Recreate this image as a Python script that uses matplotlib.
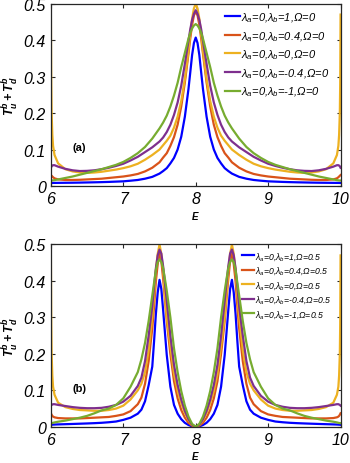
import numpy as np
import matplotlib
matplotlib.use('Agg')
import matplotlib.pyplot as plt

plt.rcParams.update({
    'font.family': 'Liberation Sans',
    'font.style': 'italic',
    'mathtext.fontset': 'custom',
    'mathtext.rm': 'Liberation Sans:italic',
    'mathtext.it': 'Liberation Sans:italic',
    'mathtext.bf': 'Liberation Sans:bold:italic',
})

# Curves are symmetric about E = 8, only the left half (6 <= E <= 8) is kept
# Panel (a): Omega = 0
E_a = [6.0, 6.005, 6.01, 6.02, 6.03, 6.05, 6.1, 6.2, 6.3, 6.4, 6.5, 6.6,
       6.7, 6.8, 6.9, 7.0, 7.1, 7.2, 7.3, 7.4, 7.5, 7.55, 7.6, 7.65, 7.7,
       7.75, 7.8, 7.85, 7.9, 7.925, 7.95, 7.975, 8.0]
blue_a = [.0084, .0084, .0084, .0084, .0085, .0085, .0086, .0088, .009,
          .0093, .0097, .0101, .0106, .0112, .012, .0128, .0145, .0165, .020,
          .025, .034, .041, .049, .062, .077, .1, .135, .19, .266, .312, .359,
          .392, .407]
red_a = [.030, .029, .028, .026, .024, .021, .018, .0165, .0165, .017, .018,
         .019, .020, .022, .024, .026, .029, .033, .04, .05, .065, .078, .09,
         .11, .134, .168, .218, .284, .363, .405, .442, .468, .478]
yellow_a = [.47, .28, .2, .14, .11, .085, .062, .046, .040, .037, .036, .037,
            .039, .042, .045, .049, .054, .061, .072, .085, .1, .112, .124,
            .138, .16, .19, .233, .293, .37, .418, .458, .487, .5]
purple_a = [.050, .052, .054, .056, .057, .057, .053, .047, .043, .041, .0415,
            .043, .046, .05, .055, .061, .07, .08, .093, .106, .122, .133,
            .148, .168, .195, .229, .275, .335, .398, .43, .455, .472, .482]
green_a = [.015, .015, .015, .0152, .0155, .016, .018, .022, .026, .031,
           .036, .041, .046, .052, .058, .066, .077, .09, .107, .13, .158,
           .174, .193, .218, .248, .283, .326, .365, .404, .42, .432, .44,
           .444]

# Panel (b): Omega = 0.5
E_b = [6.0, 6.005, 6.01, 6.02, 6.03, 6.05, 6.1, 6.2, 6.3, 6.4, 6.5, 6.6,
       6.7, 6.8, 6.9, 7.0, 7.1, 7.2, 7.25, 7.3, 7.35, 7.4, 7.425, 7.45,
       7.475, 7.5, 7.525, 7.55, 7.575, 7.6, 7.65, 7.7, 7.75, 7.8, 7.85,
       7.9, 7.95, 8.0]
blue_b = [.0055, .0056, .0057, .0058, .006, .0062, .0066, .0072, .0078,
          .0085, .0092, .010, .011, .0125, .0145, .019, .025, .036, .047,
          .07, .114, .165, .235, .31, .368, .403, .378, .32, .258, .197, .11,
          .06, .036, .021, .011, .005, .0012, 0.0]
red_b = [.037, .035, .033, .030, .028, .026, .024, .023, .023, .023, .024,
         .025, .026, .027, .03, .034, .043, .062, .08, .118, .18, .27, .33,
         .40, .446, .48, .455, .406, .35, .29, .2, .125, .078, .046, .025,
         .011, .003, 0.0]
yellow_b = [.47, .28, .2, .14, .11, .088, .066, .054, .049, .046, .045, .044,
            .044, .046, .05, .058, .075, .1, .118, .15, .21, .30, .36, .428,
            .474, .5, .474, .428, .36, .30, .22, .145, .098, .065, .038, .018,
            .005, 0.0]
purple_b = [.058, .059, .06, .061, .062, .062, .06, .057, .054, .052, .051,
            .051, .052, .055, .06, .069, .085, .112, .135, .18, .25, .33,
            .385, .435, .47, .486, .475, .44, .395, .345, .25, .17, .115,
            .075, .044, .021, .006, 0.0]
green_b = [.01, .01, .0102, .0105, .011, .012, .014, .017, .021, .025, .03,
           .037, .045, .05, .06, .078, .11, .15, .185, .23, .29, .36, .395,
           .43, .452, .459, .452, .435, .405, .373, .3, .215, .15, .098, .058,
           .028, .008, 0.0]

lam_b = ['1', '0.4', '0', '-0.4', '-1']
colors = ['#0000ff', '#d95319', '#edb120', '#7e2f8e', '#77ac30']


def mirror(E, T):
    """Completes a half curve (6..8) to the full range 6..10."""
    E, T = np.asarray(E), np.asarray(T)
    return (np.concatenate([E, 16. - E[-2::-1]]),
            np.concatenate([T, T[-2::-1]]))


def panel(ax, E, curves, omega, tag, legsize, legspacing):
    for T, lb, c in zip(curves, lam_b, colors):
        x, y = mirror(E, T)
        ax.plot(x, y, color=c, lw=1.6,
                label=r'$\lambda_a$=0,$\lambda_b$=' + lb + r',$\Omega$=' + omega)
    ax.set_xlim(6, 10)
    ax.set_ylim(0, 0.5)
    ax.set_xticks([6, 7, 8, 9, 10])
    ax.set_yticks([0, 0.1, 0.2, 0.3, 0.4, 0.5])
    ax.set_yticklabels(['0', '0.1', '0.2', '0.3', '0.4', '0.5'])
    ax.tick_params(direction='in', top=True, right=True, labelsize=11.5,
                   length=3, width=0.8, color='#262626', pad=3.5)
    for s in ax.spines.values():
        s.set_color('#262626')
        s.set_linewidth(0.9)
    ax.set_xlabel(r'$\mathbf{E}$', fontsize=7, labelpad=2)
    ax.set_ylabel(r'$\mathbf{T_u^b+T_d^b}$', fontsize=9)
    ax.yaxis.set_label_coords(-0.102, 0.5)
    ax.text(6.3, 0.107, tag, fontsize=8, fontweight='bold', fontstyle='normal',
            ha='left', va='center')
    ax.legend(loc='upper right', frameon=False, fontsize=legsize,
              handlelength=1.3, handletextpad=0.15, labelspacing=legspacing,
              borderaxespad=0.2, bbox_to_anchor=(0.985, 1.0))


fig = plt.figure(figsize=(3.5, 4.64), dpi=100)
ax1 = fig.add_axes([0.1454, 0.597, 0.8276, 0.393])
ax2 = fig.add_axes([0.1454, 0.078, 0.8276, 0.393])

panel(ax1, E_a, [blue_a, red_a, yellow_a, purple_a, green_a], '0', '(a)',
      8, 0.45)
panel(ax2, E_b, [blue_b, red_b, yellow_b, purple_b, green_b], '0.5', '(b)',
      6.2, 0.3)

fig.savefig('out.png', dpi=100)
